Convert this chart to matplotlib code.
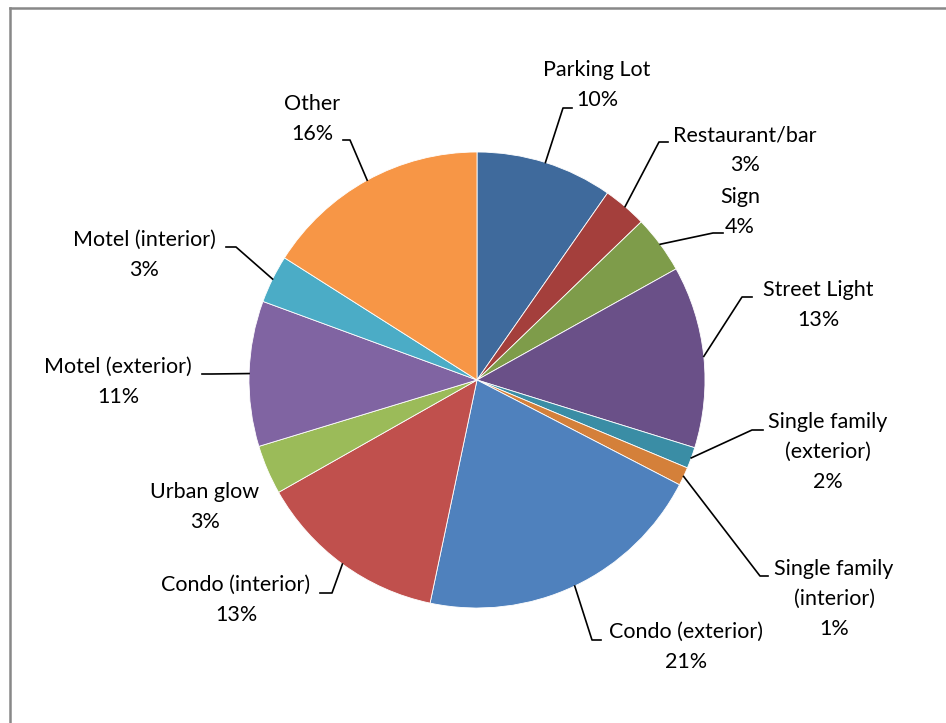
import numpy as np
import matplotlib
matplotlib.use("Agg")
import matplotlib.pyplot as plt
from matplotlib.lines import Line2D

plt.rcParams['font.family'] = ['Lato', 'DejaVu Sans']

# slice data, clockwise from 12 o'clock
categories = ['Parking Lot', 'Restaurant/bar', 'Sign', 'Street Light',
              'Single family\n(exterior)', 'Single family\n(interior)',
              'Condo (exterior)', 'Condo (interior)', 'Urban glow',
              'Motel (exterior)', 'Motel (interior)', 'Other']
values = [9.7, 3.1, 4.1, 12.9, 1.5, 1.3, 20.7, 13.5, 3.5, 10.3, 3.4, 16.0]
pct_labels = ['10%', '3%', '4%', '13%', '2%', '1%', '21%', '13%', '3%', '11%', '3%', '16%']
colors = ['#3F6A9C', '#A43F3C', '#7E9C4A', '#6A5088', '#3A8DA5', '#D4803A',
          '#4F81BD', '#C0504D', '#9BBB59', '#8064A2', '#4BACC6', '#F79646']

# layout (pixel positions in the 946x723 picture)
W, H = 946, 723
CX, CY, R = 477, 380, 228
label_pos = [(597, 85), (745, 150), (740, 212), (818, 305), (828, 452), (834, 599),
             (686, 647), (236, 600), (205, 507), (118, 382), (144, 255), (312, 119)]
# elbow and end of leader lines (None = no leader)
leaders = [((563, 108), (572, 108)), ((659, 142), (668, 142)), ((713, 233), (723, 233)),
           ((742, 297), (752, 297)), ((752, 430), (763, 430)), ((760, 576), (768, 576)),
           ((592, 640), (601, 640)), ((332, 593), (320, 593)), None,
           ((212, 374), (202, 374)), ((236, 247), (226, 247)), ((350, 140), (343, 140))]


def px(x, y):
    return (x - CX) / R, (CY - y) / R


fig = plt.figure(figsize=(W / 100, H / 100), dpi=100)
ax = fig.add_axes([0, 0, 1, 1])

wedges, _ = ax.pie(values, colors=colors, startangle=90, counterclock=False,
                   radius=1, center=(0, 0), frame=True,
                   wedgeprops=dict(edgecolor='white', linewidth=0.6))
ax.set_xlim(-CX / R, (W - CX) / R)
ax.set_ylim((CY - H) / R, CY / R)
ax.axis('off')

for i, w in enumerate(wedges):
    tx, ty = px(*label_pos[i])
    ax.text(tx, ty, categories[i] + '\n' + pct_labels[i], ha='center', va='center',
            fontsize=15.5, linespacing=1.62, color='black')
    if leaders[i] is not None:
        ang = np.deg2rad((w.theta1 + w.theta2) / 2)
        sx, sy = np.cos(ang), np.sin(ang)
        ex, ey = px(*leaders[i][0])
        fx, fy = px(*leaders[i][1])
        ax.plot([sx, ex, fx], [sy, ey, fy], color='black', lw=1.2)

# chart area border (top and left visible)
fig.add_artist(Line2D([9.5 / W, 1], [1 - 7.5 / H, 1 - 7.5 / H], transform=fig.transFigure,
                      color='#888888', lw=1.8))
fig.add_artist(Line2D([9.5 / W, 9.5 / W], [0, 1 - 7.5 / H], transform=fig.transFigure,
                      color='#888888', lw=1.8))

fig.savefig('out.png', dpi=100)
